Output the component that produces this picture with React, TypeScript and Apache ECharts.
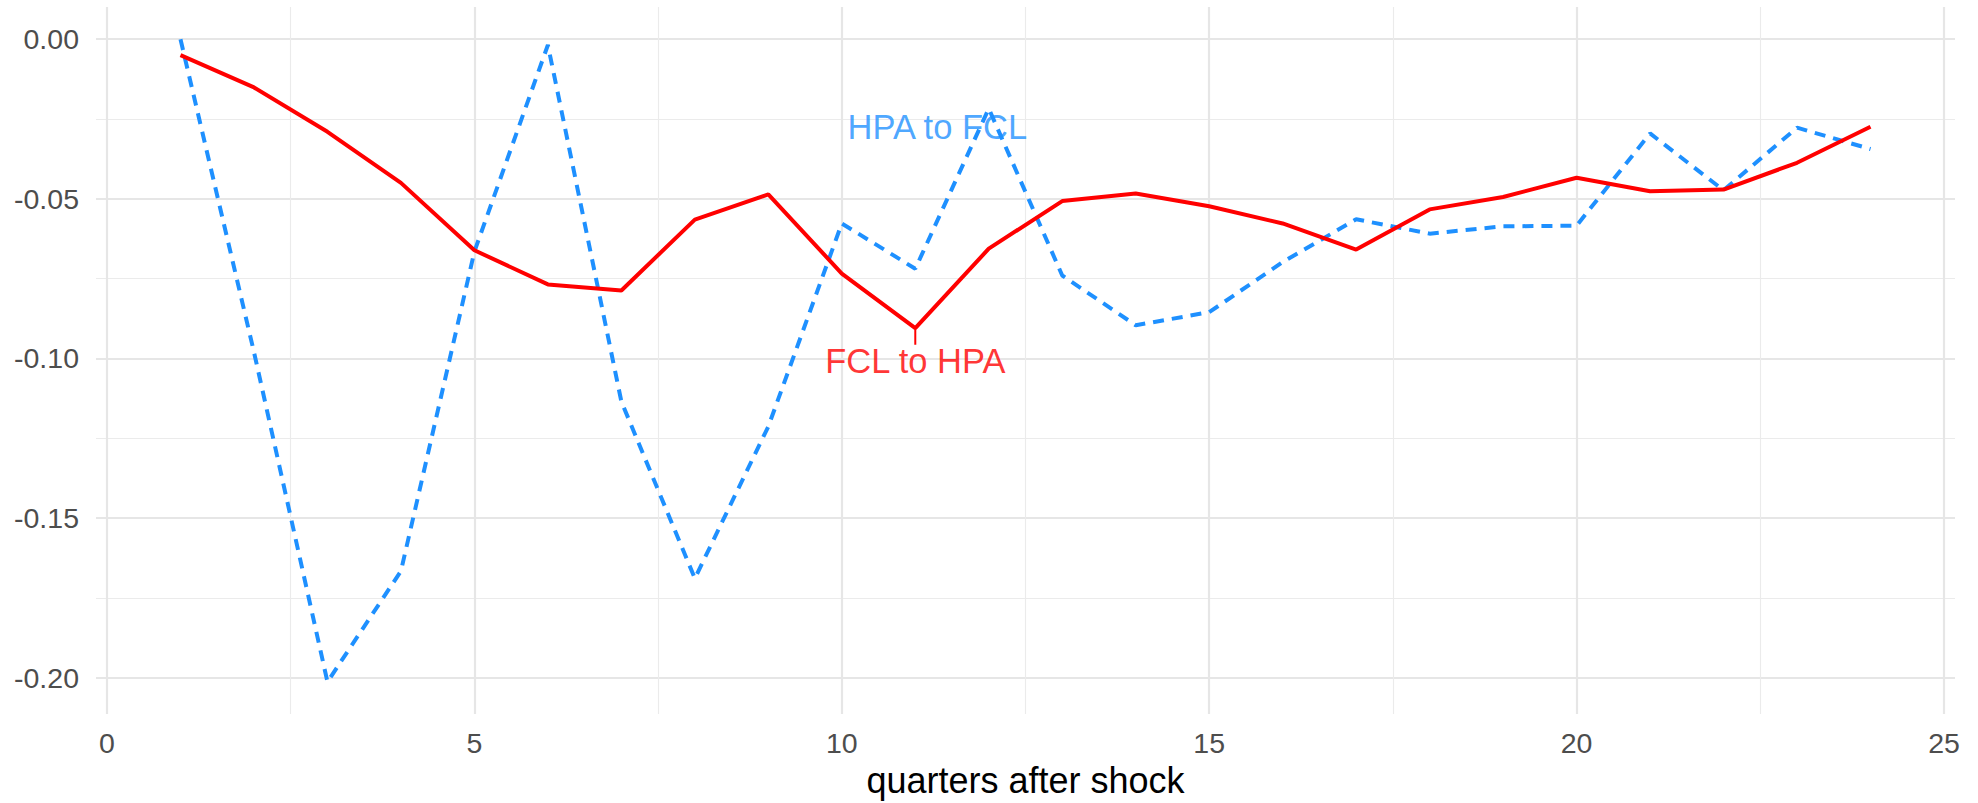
import React, { useEffect, useRef } from "react";
import * as echarts from "echarts";

const quarters = [1, 2, 3, 4, 5, 6, 7, 8, 9, 10, 11, 12, 13, 14, 15, 16, 17, 18, 19, 20, 21, 22, 23, 24];
const fclToHpa = [-0.005, -0.0151, -0.029, -0.045, -0.0661, -0.0768, -0.0787, -0.0565, -0.0486, -0.0734, -0.0905, -0.0656, -0.0507, -0.0483, -0.0523, -0.0577, -0.0659, -0.0533, -0.0494, -0.0434, -0.0476, -0.0471, -0.0387, -0.0274];
const hpaToFcl = [0.0, -0.098, -0.2013, -0.1666, -0.0665, -0.0018, -0.1135, -0.1689, -0.1213, -0.0577, -0.0719, -0.0217, -0.074, -0.0896, -0.0855, -0.0698, -0.0564, -0.0609, -0.0586, -0.0584, -0.0295, -0.0473, -0.0277, -0.0344];

const xMajor = [0, 5, 10, 15, 20, 25];
const xMinor = [2.5, 7.5, 12.5, 17.5, 22.5];
const yMajor = [-0.2, -0.15, -0.1, -0.05, 0];
const yMinor = [-0.175, -0.125, -0.075, -0.025];

// annotation labels: [x, y, text]
const fclLabel: [number, number, string] = [11.0, -0.1007, "FCL to HPA"];
const hpaLabel: [number, number, string] = [11.3, -0.0275, "HPA to FCL"];
const fclSegment = [[11, -0.0905], [11, -0.0957]];

const FONT = "Liberation Sans, Arial, Helvetica, sans-serif";

export default function App() {
  const ref = useRef<HTMLDivElement>(null);
  useEffect(() => {
    if (!ref.current) return;
    const chart = echarts.init(ref.current, undefined, { renderer: "svg" });
    const grid = { left: 96, right: 23, top: 7, bottom: 86 };
    const xCommon = { type: "value", min: -0.15, max: 25.15, gridIndex: 0 };
    const yCommon = { type: "value", min: -0.2114, max: 0.0101, gridIndex: 0 };
    chart.setOption({
      animation: false,
      backgroundColor: "#ffffff",
      grid,
      xAxis: [
        {
          ...xCommon,
          axisLine: { show: false },
          axisTick: { show: false, customValues: xMajor },
          axisLabel: {
            customValues: xMajor,
            fontSize: 28.5,
            color: "#4D4D4D",
            fontFamily: FONT,
            margin: 14,
            formatter: (v: number) => String(v),
          },
          splitLine: { show: true, lineStyle: { color: "#E6E6E6", width: 2.2 } },
          name: "quarters after shock",
          nameLocation: "middle",
          nameGap: 45,
          nameTextStyle: { fontSize: 36, color: "#000000", fontFamily: FONT },
        },
        {
          ...xCommon,
          axisLine: { show: false },
          axisTick: { show: false, customValues: xMinor },
          axisLabel: { show: false, customValues: xMinor },
          splitLine: { show: true, lineStyle: { color: "#EBEBEB", width: 1.1 } },
        },
      ],
      yAxis: [
        {
          ...yCommon,
          axisLine: { show: false },
          axisTick: { show: false, customValues: yMajor },
          axisLabel: {
            customValues: yMajor,
            fontSize: 28.5,
            color: "#4D4D4D",
            fontFamily: FONT,
            margin: 17,
            formatter: (v: number) => v.toFixed(2),
          },
          splitLine: { show: true, lineStyle: { color: "#E6E6E6", width: 2.2 } },
        },
        {
          ...yCommon,
          axisLine: { show: false },
          axisTick: { show: false, customValues: yMinor },
          axisLabel: { show: false, customValues: yMinor },
          splitLine: { show: true, lineStyle: { color: "#EBEBEB", width: 1.1 } },
        },
      ],
      series: [
        {
          name: "HPA to FCL",
          type: "line",
          data: quarters.map((q, i) => [q, hpaToFcl[i]]),
          showSymbol: false,
          lineStyle: { color: "#1E90FF", width: 4, type: [11, 8], cap: "butt" },
          z: 2,
        },
        {
          name: "FCL to HPA",
          type: "line",
          data: quarters.map((q, i) => [q, fclToHpa[i]]),
          showSymbol: false,
          lineStyle: { color: "#FF0000", width: 4 },
          z: 3,
        },
        {
          name: "segment",
          type: "line",
          data: fclSegment,
          showSymbol: false,
          lineStyle: { color: "#FF0000", width: 2 },
          z: 3,
        },
        {
          name: "labels",
          type: "scatter",
          symbolSize: 1,
          itemStyle: { color: "rgba(0,0,0,0)" },
          data: [
            { value: fclLabel, label: { color: "#FF0000" } },
            { value: hpaLabel, label: { color: "#1E90FF" } },
          ],
          label: {
            show: true,
            position: "inside",
            fontSize: 34.5,
            fontFamily: FONT,
            formatter: (p: any) => p.value[2],
          },
          z: 4,
        },
      ],
    });
    return () => chart.dispose();
  }, []);
  return (
    <div
      ref={ref}
      style={{ position: "absolute", left: 0, top: 0, width: 1978, height: 803 }}
    />
  );
}
